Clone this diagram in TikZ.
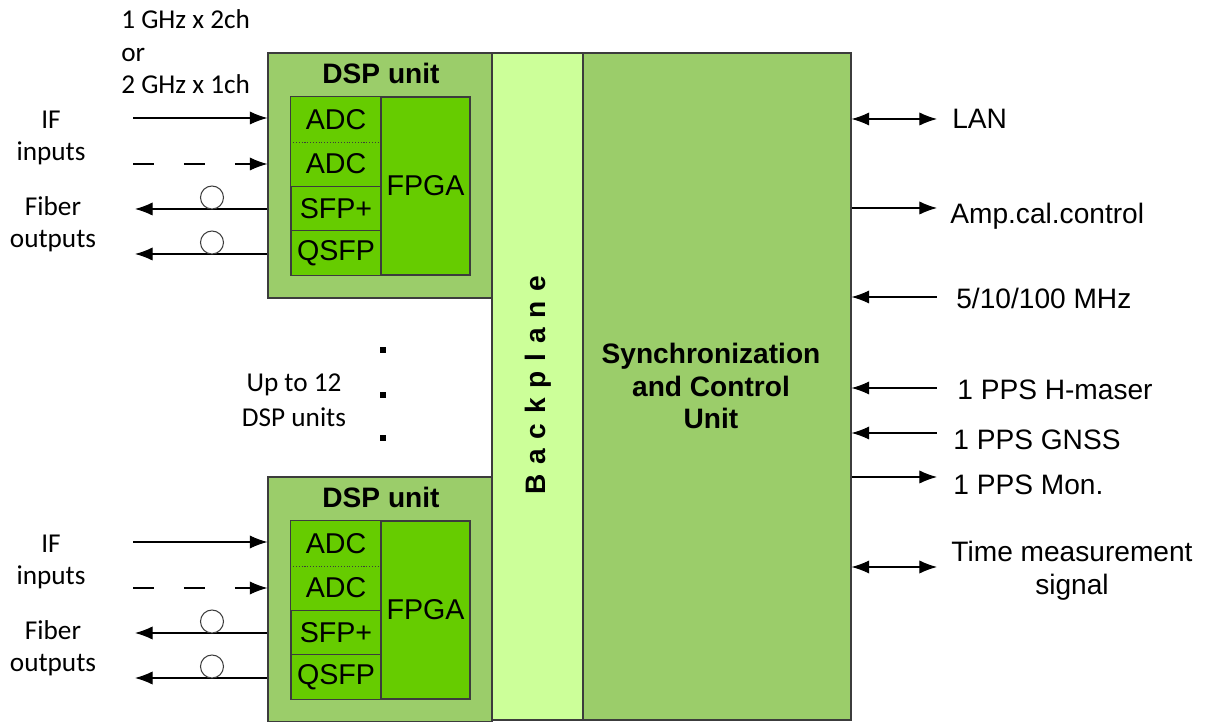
\documentclass[tikz,border=0pt]{standalone}
\usepackage{fontspec}
\setmainfont{Liberation Sans}
\newfontfamily\calfont{Carlito}
\usetikzlibrary{arrows.meta}
\definecolor{unitgreen}{RGB}{155,205,106}
\definecolor{backgreen}{RGB}{204,255,153}
\definecolor{chipgreen}{RGB}{102,204,0}
\definecolor{edgegray}{RGB}{60,60,60}

\begin{document}
\begin{tikzpicture}[x=0.02cm, y=-0.02cm,
    box/.style={rectangle, draw=edgegray, line width=0.7pt, inner sep=0pt},
    unit/.style={box, fill=unitgreen},
    cell/.style={box, fill=chipgreen, minimum width=1.8cm, minimum height=0.89cm, font=\fontsize{16.3}{19}\selectfont},
    lbl/.style={font=\fontsize{16}{19}\selectfont, align=center, inner sep=0pt},
    side/.style={font=\calfont\fontsize{15.5}{18.5}\selectfont, align=center, inner sep=0pt},
    fibre/.style={circle, draw=edgegray, line width=0.6pt, fill=white, minimum size=0.46cm, inner sep=0pt},
    sigout/.style={line width=0.6pt, -{Latex[length=10pt,width=7.5pt]}},
    sigin/.style={line width=0.6pt, {Latex[length=10pt,width=7.5pt]}-},
    sigboth/.style={line width=0.6pt, {Latex[length=10pt,width=7.5pt]}-{Latex[length=10pt,width=7.5pt]}}]
    \useasboundingbox (0,0) rectangle (1211,722);
    % Nodes
    \node[unit, minimum width=5.36cm, minimum height=13.34cm] (sync) at (717,386.5) {};
    \node[box, fill=backgreen, minimum width=1.82cm, minimum height=13.34cm] (bp) at (537.5,386.5) {};
    \node[rotate=90, font=\bfseries\fontsize{16}{19}\selectfont\addfontfeature{LetterSpace=35}] (bplbl) at (538,385) {Backplane};
    \node[lbl, font=\bfseries\fontsize{16}{18.5}\selectfont] (synclbl) at (711,386) {Synchronization\\and Control\\Unit};
    % DSP units
    \foreach \u/\dy in {1/0,2/424} {
        \node[unit, minimum width=4.48cm, minimum height=4.9cm] (dsp\u) at (380,175.5+\dy) {};
        \node[lbl, font=\bfseries\fontsize{16}{19}\selectfont] (dsplbl\u) at (381,73+\dy) {DSP unit};
        \node[cell, draw=none] (adcA\u) at (336,119.5+\dy) {ADC};
        \node[cell, draw=none] (adcB\u) at (336,164+\dy) {ADC};
        \draw[edgegray, line width=0.7pt] (adcA\u.north west) rectangle (adcB\u.south east);
        \draw[edgegray, densely dotted, line width=0.6pt] (adcA\u.south west) -- (adcA\u.south east);
        \node[cell] (sfp\u) at (336,208.5+\dy) {SFP+};
        \node[cell] (qsfp\u) at (336,253+\dy) {QSFP};
        \node[cell, minimum width=1.78cm, minimum height=3.56cm] (fpga\u) at (425.5,186+\dy) {FPGA};
        % inputs and fibres
        \coordinate (ifA\u) at (133,118+\dy);
        \coordinate (ifB\u) at (133,164+\dy);
        \coordinate (fbA\u) at (135,209+\dy);
        \coordinate (fbB\u) at (135,254+\dy);
        \draw[sigout] (ifA\u) -- (ifA\u -| dsp\u.west);
        \draw[sigout, dash pattern=on 12pt off 17pt] (ifB\u) -- (ifB\u -| dsp\u.west);
        \draw[sigout] (fbA\u -| dsp\u.west) -- (fbA\u);
        \draw[sigout] (fbB\u -| dsp\u.west) -- (fbB\u);
        \node[fibre] (ringA\u) at (212,197.5+\dy) {};
        \node[fibre] (ringB\u) at (212,242.5+\dy) {};
        \node[side] (iflbl\u) at (51,138+\dy) {IF\\inputs};
        \node[side] (fblbl\u) at (53,224+\dy) {Fiber\\outputs};
    }
    \node[side, align=left, anchor=west] (rate) at (121,52) {1 GHz x 2ch\\or\\2 GHz x 1ch};
    \node[side, font=\calfont\fontsize{15.5}{19.8}\selectfont] (more) at (294,400) {Up to 12\\DSP units};
    \foreach \y [count=\i] in {350,395,438}
        \node[fill=black, minimum size=0.12cm, inner sep=0pt] (dot\i) at (383,\y) {};
    % Sync signals
    \foreach \y/\ty/\tx/\kind/\txt [count=\i] in {119/119/952/sigboth/LAN, 208/216/950/sigout/Amp.cal.control,
        297/298/956/sigin/{5/10/100 MHz}, 388/390/957/sigin/1 PPS H-maser, 433/440/953/sigin/1 PPS GNSS,
        477/485/953/sigout/1 PPS Mon.} {
        \coordinate (sg\i) at (937,\y);
        \draw[\kind] (sync.east |- sg\i) -- (sg\i);
        \node[lbl, anchor=west] (sglbl\i) at (\tx,\ty) {\txt};
    }
    \coordinate (tm) at (937,567);
    \draw[sigboth] (sync.east |- tm) -- (tm);
    \node[lbl] (tmlbl) at (1072,571) {Time measurement\\signal};
\end{tikzpicture}
\end{document}
